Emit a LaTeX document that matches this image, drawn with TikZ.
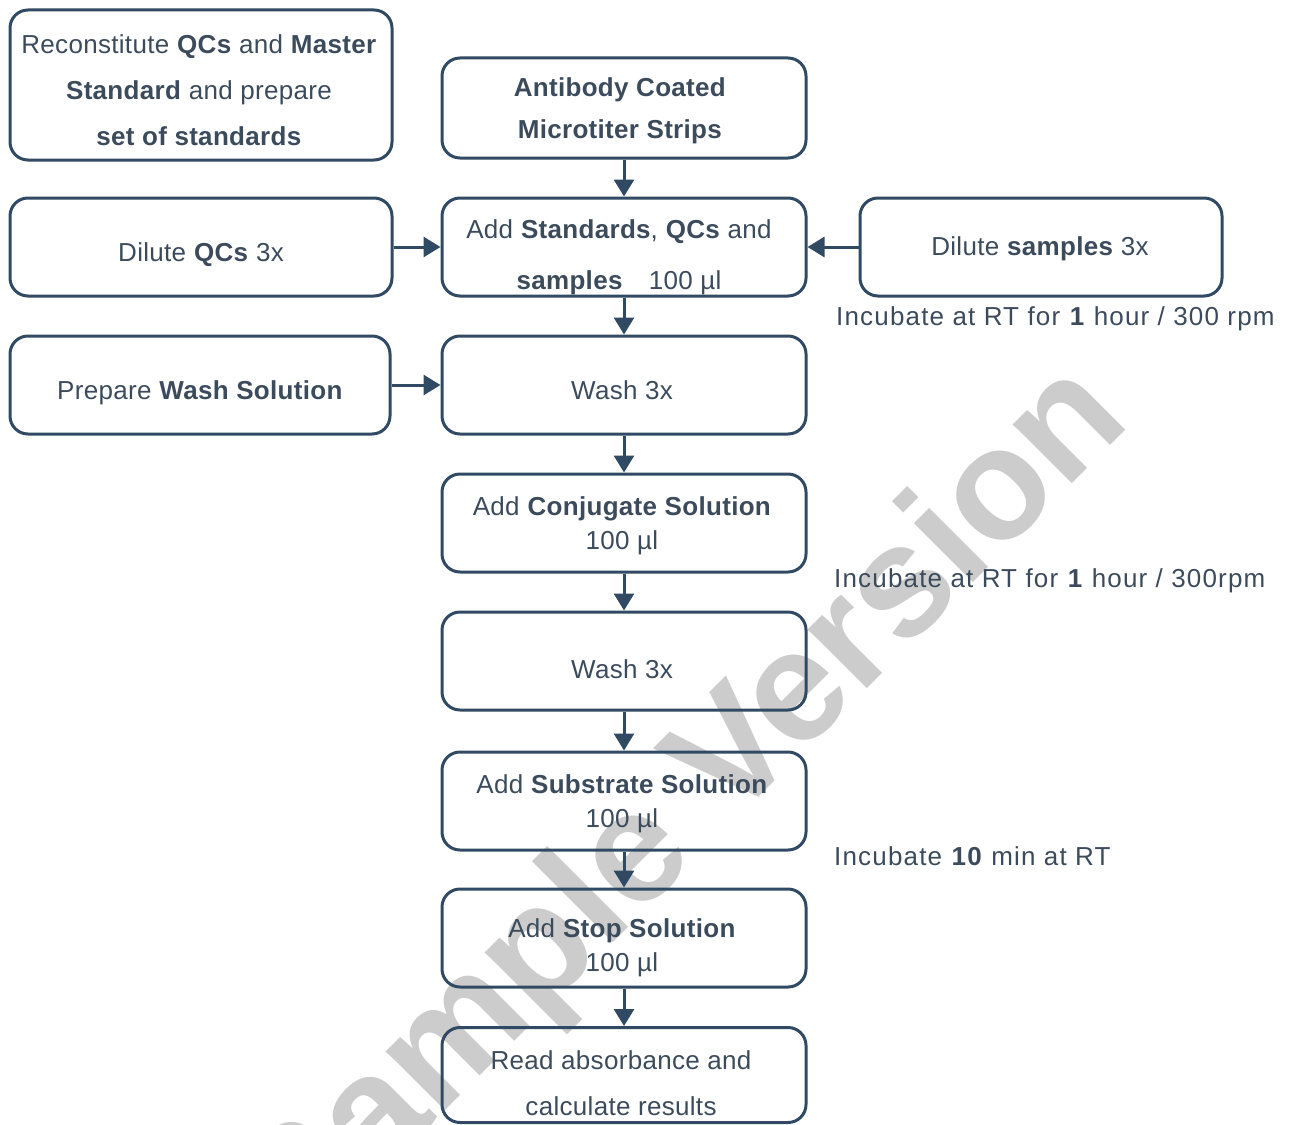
\documentclass[tikz,border=0pt]{standalone}
\usepackage{fontspec}
\setmainfont{Liberation Sans}
\newfontfamily\boxfont[LetterSpace=1.2]{Liberation Sans}
\newfontfamily\lblfont[LetterSpace=4.5]{Liberation Sans}
\usetikzlibrary{arrows.meta}
\definecolor{boxline}{HTML}{2F4A62}
\definecolor{boxtext}{HTML}{3C4B5C}
\definecolor{wmark}{HTML}{CCCCCC}
\begin{document}
\begin{tikzpicture}[x=1pt,y=-1pt,
  box/.style={draw=boxline, line width=3pt, rounded corners=18pt, inner sep=0pt},
  txt/.style={align=center, text=boxtext, inner sep=0pt, font=\boxfont\fontsize{26}{30}\selectfont},
  lbl/.style={text=boxtext, inner sep=0pt, anchor=west, font=\lblfont\fontsize{26}{30}\selectfont},
  arr/.style={draw=boxline, line width=3pt, -{Triangle[length=17pt,width=20pt]}}]
\useasboundingbox (0,0) rectangle (1292,1124);
% watermark
\node[text=wmark, rotate=45, anchor=base, inner sep=0pt, font=\fontsize{158}{158}\selectfont\bfseries] (wm) at (717,839) {Sample Version};
% boxes
\node[box, minimum width=382pt, minimum height=150pt] (A) at (201,85) {};
\node[box, minimum width=364pt, minimum height=100pt] (B) at (624,108) {};
\node[box, minimum width=382pt, minimum height=98pt] (C) at (201,247) {};
\node[box, minimum width=364pt, minimum height=98pt] (D) at (624,247) {};
\node[box, minimum width=362pt, minimum height=98pt] (E) at (1041,247) {};
\node[box, minimum width=380pt, minimum height=98pt] (F) at (200,385) {};
\node[box, minimum width=364pt, minimum height=98pt] (G) at (624,385) {};
\node[box, minimum width=364pt, minimum height=98pt] (H) at (624,523) {};
\node[box, minimum width=364pt, minimum height=98pt] (I) at (624,661) {};
\node[box, minimum width=364pt, minimum height=98pt] (J) at (624,801) {};
\node[box, minimum width=364pt, minimum height=98pt] (K) at (624,938) {};
\node[box, minimum width=364pt, minimum height=95pt] (L) at (624,1075) {};
% box texts
\node[txt] (At) at (199,90)
  {Reconstitute \textbf{QCs} and \textbf{Master}\\[16pt]\textbf{Standard} and prepare\\[16pt]\textbf{set of standards}};
\node[txt] (Bt) at (620,111) {\textbf{Antibody Coated}\\[12pt]\textbf{Microtiter Strips}};
\node[txt] (Ct) at (201,255) {Dilute \textbf{QCs} 3x};
\node[txt] (Dt) at (619,257) {Add \textbf{Standards}, \textbf{QCs} and\\[21pt]\textbf{samples}\quad 100 µl};
\node[txt] (Et) at (1040,249) {Dilute \textbf{samples} 3x};
\node[txt] (Ft) at (200,393) {Prepare \textbf{Wash Solution}};
\node[txt] (Gt) at (622,390) {Wash 3x};
\node[txt] (Ht) at (622,526) {Add \textbf{Conjugate Solution}\\[4pt]100 µl};
\node[txt] (It) at (622,669) {Wash 3x};
\node[txt] (Jt) at (622,804) {Add \textbf{Substrate Solution}\\[4pt]100 µl};
\node[txt] (Kt) at (622,948) {Add \textbf{Stop Solution}\\[4pt]100 µl};
\node[txt] (Lt) at (621,1083) {Read absorbance and\\[16pt]calculate results};
% labels
\node[lbl] (t1) at (836,319) {Incubate at RT for \textbf{1} hour / 300 rpm};
\node[lbl] (t2) at (834,581) {Incubate at RT for \textbf{1} hour / 300rpm};
\node[lbl] (t3) at (834,856) {Incubate \textbf{10} min at RT};
% connectors
\draw[arr] (B) -- (D);
\draw[arr] (D) -- (G);
\draw[arr] (G) -- (H);
\draw[arr] (H) -- (I);
\draw[arr] (I) -- (J);
\draw[arr] (J) -- (K);
\draw[arr] (K) -- (L);
\draw[arr] (C) -- (D);
\draw[arr] (E) -- (D);
\draw[arr] (F) -- (G);
\end{tikzpicture}
\end{document}
